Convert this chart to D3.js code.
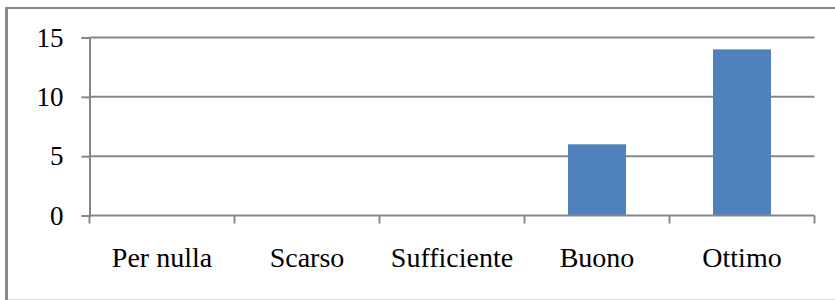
<!DOCTYPE html>
<html>
<head>
<meta charset="utf-8">
<script src="https://cdn.jsdelivr.net/npm/d3@7"></script>
<style>
  body { margin: 0; background: #fff; }
  .chart { width: 835px; height: 300px; }
  text { font-family: "Liberation Serif", "DejaVu Serif", serif; fill: #000; }
</style>
</head>
<body>
<div class="chart"></div>
<script>
// chart data
let categories = ["Per nulla", "Scarso", "Sufficiente", "Buono", "Ottimo"];
let values = [0, 0, 0, 6, 14];
let yTicks = [0, 5, 10, 15];

let chart = {};

chart.margin = { top: 37.5, right: 20.5, bottom: 84.5, left: 89.5 };
chart.width = 835 - chart.margin.left - chart.margin.right;
chart.height = 300 - chart.margin.top - chart.margin.bottom;

chart.svg = d3.select(".chart").append("svg")
    .attr("width", 835)
    .attr("height", 300);

// outer frame
chart.svg.append("line")
    .attr("x1", 6.5).attr("x2", 835).attr("y1", 8).attr("y2", 8)
    .attr("stroke", "#878787").attr("stroke-width", 2);
chart.svg.append("line")
    .attr("x1", 6.5).attr("x2", 6.5).attr("y1", 7).attr("y2", 300)
    .attr("stroke", "#878787").attr("stroke-width", 3);
chart.svg.append("line")
    .attr("x1", 8).attr("x2", 835).attr("y1", 299.5).attr("y2", 299.5)
    .attr("stroke", "#dcdcdc").attr("stroke-width", 1);

chart.plot = chart.svg.append("g")
    .attr("transform", `translate(${chart.margin.left},${chart.margin.top})`);

chart.x = d3.scaleBand()
    .domain(categories)
    .range([0, chart.width])
    .paddingInner(0.6)
    .paddingOuter(0.3);

chart.y = d3.scaleLinear()
    .domain([0, 15])
    .range([chart.height, 0]);

// gridlines
chart.plot.selectAll("line.grid")
    .data(yTicks.filter(d => d > 0))
    .enter().append("line")
    .attr("class", "grid")
    .attr("x1", 0).attr("x2", chart.width)
    .attr("y1", d => chart.y(d)).attr("y2", d => chart.y(d))
    .attr("stroke", "#878787").attr("stroke-width", 2);

// bars
chart.plot.selectAll("rect.bar")
    .data(values)
    .enter().append("rect")
    .attr("class", "bar")
    .attr("x", (d, i) => chart.x(categories[i]))
    .attr("width", chart.x.bandwidth())
    .attr("y", d => chart.y(d))
    .attr("height", d => chart.height - chart.y(d))
    .attr("fill", "#4f81bd");

// y axis
let yAxis = chart.plot.append("g")
    .call(d3.axisLeft(chart.y).tickValues(yTicks).tickSize(8).tickPadding(18).tickFormat(d3.format("d")));
yAxis.select(".domain").attr("stroke", "#878787").attr("stroke-width", 2);
yAxis.selectAll(".tick line").attr("stroke", "#878787").attr("stroke-width", 2);
yAxis.selectAll(".tick text")
    .style("font-size", "27px")
    .style("font-family", "Liberation Serif, serif")
    .attr("fill", "#000")
    .attr("dy", "0.32em");

// x axis with ticks at category boundaries
let edges = d3.range(categories.length + 1).map(i => i * chart.width / categories.length);
let xAxis = chart.plot.append("g")
    .attr("transform", `translate(0,${chart.height})`);
xAxis.append("line")
    .attr("x1", 0).attr("x2", chart.width).attr("y1", 0).attr("y2", 0)
    .attr("stroke", "#878787").attr("stroke-width", 2);
xAxis.selectAll("line.tick")
    .data(edges)
    .enter().append("line")
    .attr("class", "tick")
    .attr("x1", d => d).attr("x2", d => d)
    .attr("y1", 0).attr("y2", 8)
    .attr("stroke", "#878787").attr("stroke-width", 2);
xAxis.selectAll("text.label")
    .data(categories)
    .enter().append("text")
    .attr("class", "label")
    .attr("x", d => chart.x(d) + chart.x.bandwidth() / 2)
    .attr("y", 51)
    .attr("text-anchor", "middle")
    .style("font-size", "28px")
    .text(d => d);
</script>
</body>
</html>
